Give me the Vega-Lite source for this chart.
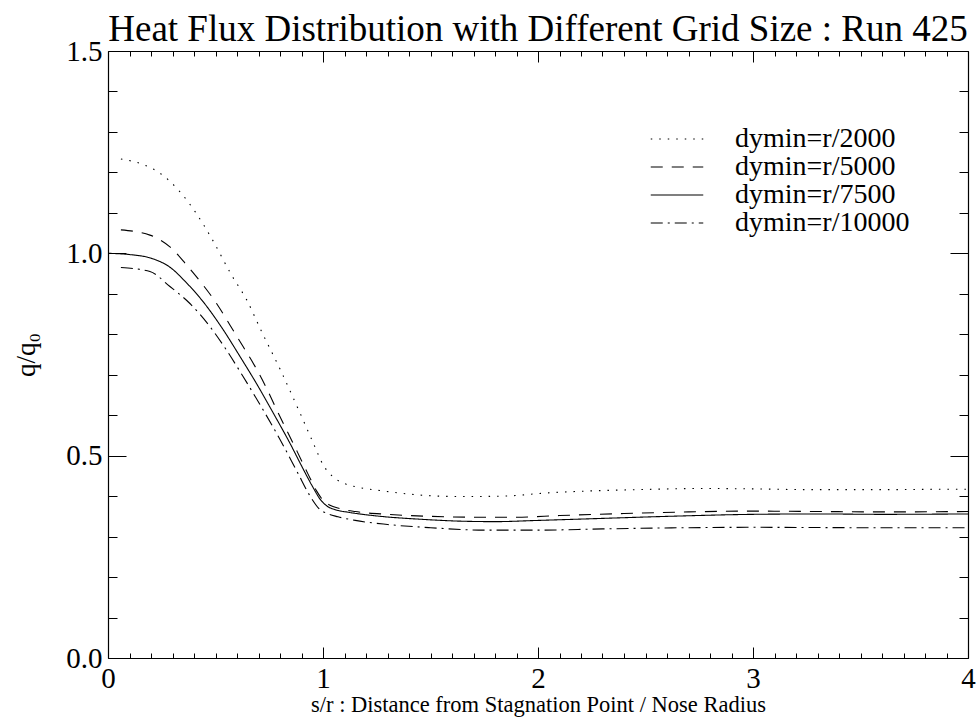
{
  "$schema": "https://vega.github.io/schema/vega-lite/v6.json",
  "autosize": "none",
  "padding": {"left": 108, "top": 51, "right": 9, "bottom": 69},
  "width": 860,
  "height": 607,
  "background": "white",
  "title": {
    "text": "Heat Flux Distribution with Different Grid Size : Run 425",
    "font": "Liberation Serif",
    "fontSize": 37,
    "fontWeight": "normal",
    "color": "black",
    "anchor": "middle",
    "offset": -12
  },
  "config": {
    "view": {"stroke": null},
    "axis": {
      "grid": false,
      "domainColor": "black",
      "domainWidth": 1.2,
      "tickColor": "black",
      "tickWidth": 1,
      "labelFont": "Liberation Serif",
      "labelFontSize": 29,
      "labelColor": "black",
      "titleFont": "Liberation Serif",
      "titleFontWeight": "normal",
      "titleColor": "black"
    }
  },
  "data": {
    "values": [
      {"run": "dymin=r/2000", "s": 0.06, "q": 1.233},
      {"run": "dymin=r/2000", "s": 0.15, "q": 1.222},
      {"run": "dymin=r/2000", "s": 0.242, "q": 1.198},
      {"run": "dymin=r/2000", "s": 0.335, "q": 1.152},
      {"run": "dymin=r/2000", "s": 0.405, "q": 1.103},
      {"run": "dymin=r/2000", "s": 0.482, "q": 1.037},
      {"run": "dymin=r/2000", "s": 0.575, "q": 0.946},
      {"run": "dymin=r/2000", "s": 0.645, "q": 0.885},
      {"run": "dymin=r/2000", "s": 0.715, "q": 0.806},
      {"run": "dymin=r/2000", "s": 0.802, "q": 0.712},
      {"run": "dymin=r/2000", "s": 0.88, "q": 0.621},
      {"run": "dymin=r/2000", "s": 0.955, "q": 0.531},
      {"run": "dymin=r/2000", "s": 1.0, "q": 0.478},
      {"run": "dymin=r/2000", "s": 1.05, "q": 0.446},
      {"run": "dymin=r/2000", "s": 1.1, "q": 0.431},
      {"run": "dymin=r/2000", "s": 1.163, "q": 0.422},
      {"run": "dymin=r/2000", "s": 1.277, "q": 0.413},
      {"run": "dymin=r/2000", "s": 1.422, "q": 0.404},
      {"run": "dymin=r/2000", "s": 1.63, "q": 0.399},
      {"run": "dymin=r/2000", "s": 1.837, "q": 0.4},
      {"run": "dymin=r/2000", "s": 2.044, "q": 0.408},
      {"run": "dymin=r/2000", "s": 2.25, "q": 0.413},
      {"run": "dymin=r/2000", "s": 2.457, "q": 0.416},
      {"run": "dymin=r/2000", "s": 2.79, "q": 0.419},
      {"run": "dymin=r/2000", "s": 2.976, "q": 0.418},
      {"run": "dymin=r/2000", "s": 3.287, "q": 0.416},
      {"run": "dymin=r/2000", "s": 3.598, "q": 0.416},
      {"run": "dymin=r/2000", "s": 3.908, "q": 0.417},
      {"run": "dymin=r/2000", "s": 4.0, "q": 0.417},

      {"run": "dymin=r/5000", "s": 0.06, "q": 1.058},
      {"run": "dymin=r/5000", "s": 0.195, "q": 1.045},
      {"run": "dymin=r/5000", "s": 0.288, "q": 1.016},
      {"run": "dymin=r/5000", "s": 0.366, "q": 0.971},
      {"run": "dymin=r/5000", "s": 0.436, "q": 0.926},
      {"run": "dymin=r/5000", "s": 0.505, "q": 0.876},
      {"run": "dymin=r/5000", "s": 0.567, "q": 0.823},
      {"run": "dymin=r/5000", "s": 0.629, "q": 0.769},
      {"run": "dymin=r/5000", "s": 0.676, "q": 0.728},
      {"run": "dymin=r/5000", "s": 0.738, "q": 0.666},
      {"run": "dymin=r/5000", "s": 0.785, "q": 0.613},
      {"run": "dymin=r/5000", "s": 0.831, "q": 0.563},
      {"run": "dymin=r/5000", "s": 0.88, "q": 0.51},
      {"run": "dymin=r/5000", "s": 0.93, "q": 0.455},
      {"run": "dymin=r/5000", "s": 0.97, "q": 0.413},
      {"run": "dymin=r/5000", "s": 1.0, "q": 0.39},
      {"run": "dymin=r/5000", "s": 1.03, "q": 0.378},
      {"run": "dymin=r/5000", "s": 1.08, "q": 0.369},
      {"run": "dymin=r/5000", "s": 1.15, "q": 0.362},
      {"run": "dymin=r/5000", "s": 1.3, "q": 0.355},
      {"run": "dymin=r/5000", "s": 1.5, "q": 0.35},
      {"run": "dymin=r/5000", "s": 1.7, "q": 0.348},
      {"run": "dymin=r/5000", "s": 1.9, "q": 0.348},
      {"run": "dymin=r/5000", "s": 2.1, "q": 0.352},
      {"run": "dymin=r/5000", "s": 2.4, "q": 0.357},
      {"run": "dymin=r/5000", "s": 2.7, "q": 0.361},
      {"run": "dymin=r/5000", "s": 3.0, "q": 0.363},
      {"run": "dymin=r/5000", "s": 3.3, "q": 0.362},
      {"run": "dymin=r/5000", "s": 3.6, "q": 0.361},
      {"run": "dymin=r/5000", "s": 4.0, "q": 0.362},

      {"run": "dymin=r/7500", "s": 0.0, "q": 1.0},
      {"run": "dymin=r/7500", "s": 0.1, "q": 0.997},
      {"run": "dymin=r/7500", "s": 0.2, "q": 0.988},
      {"run": "dymin=r/7500", "s": 0.29, "q": 0.965},
      {"run": "dymin=r/7500", "s": 0.36, "q": 0.93},
      {"run": "dymin=r/7500", "s": 0.44, "q": 0.882},
      {"run": "dymin=r/7500", "s": 0.536, "q": 0.811},
      {"run": "dymin=r/7500", "s": 0.614, "q": 0.745},
      {"run": "dymin=r/7500", "s": 0.692, "q": 0.677},
      {"run": "dymin=r/7500", "s": 0.769, "q": 0.605},
      {"run": "dymin=r/7500", "s": 0.847, "q": 0.53},
      {"run": "dymin=r/7500", "s": 0.9, "q": 0.475},
      {"run": "dymin=r/7500", "s": 0.95, "q": 0.425},
      {"run": "dymin=r/7500", "s": 0.99, "q": 0.39},
      {"run": "dymin=r/7500", "s": 1.02, "q": 0.375},
      {"run": "dymin=r/7500", "s": 1.06, "q": 0.366},
      {"run": "dymin=r/7500", "s": 1.12, "q": 0.36},
      {"run": "dymin=r/7500", "s": 1.25, "q": 0.351},
      {"run": "dymin=r/7500", "s": 1.45, "q": 0.343},
      {"run": "dymin=r/7500", "s": 1.65, "q": 0.338},
      {"run": "dymin=r/7500", "s": 1.8, "q": 0.337},
      {"run": "dymin=r/7500", "s": 2.0, "q": 0.34},
      {"run": "dymin=r/7500", "s": 2.3, "q": 0.345},
      {"run": "dymin=r/7500", "s": 2.6, "q": 0.35},
      {"run": "dymin=r/7500", "s": 3.0, "q": 0.355},
      {"run": "dymin=r/7500", "s": 3.3, "q": 0.356},
      {"run": "dymin=r/7500", "s": 3.6, "q": 0.355},
      {"run": "dymin=r/7500", "s": 4.0, "q": 0.356},

      {"run": "dymin=r/10000", "s": 0.06, "q": 0.965},
      {"run": "dymin=r/10000", "s": 0.195, "q": 0.955},
      {"run": "dymin=r/10000", "s": 0.288, "q": 0.918},
      {"run": "dymin=r/10000", "s": 0.381, "q": 0.876},
      {"run": "dymin=r/10000", "s": 0.474, "q": 0.819},
      {"run": "dymin=r/10000", "s": 0.551, "q": 0.761},
      {"run": "dymin=r/10000", "s": 0.629, "q": 0.695},
      {"run": "dymin=r/10000", "s": 0.706, "q": 0.627},
      {"run": "dymin=r/10000", "s": 0.8, "q": 0.54},
      {"run": "dymin=r/10000", "s": 0.88, "q": 0.46},
      {"run": "dymin=r/10000", "s": 0.94, "q": 0.4},
      {"run": "dymin=r/10000", "s": 0.98, "q": 0.37},
      {"run": "dymin=r/10000", "s": 1.02, "q": 0.357},
      {"run": "dymin=r/10000", "s": 1.07, "q": 0.349},
      {"run": "dymin=r/10000", "s": 1.15, "q": 0.34},
      {"run": "dymin=r/10000", "s": 1.3, "q": 0.33},
      {"run": "dymin=r/10000", "s": 1.5, "q": 0.322},
      {"run": "dymin=r/10000", "s": 1.75, "q": 0.316},
      {"run": "dymin=r/10000", "s": 2.0, "q": 0.316},
      {"run": "dymin=r/10000", "s": 2.3, "q": 0.319},
      {"run": "dymin=r/10000", "s": 2.7, "q": 0.322},
      {"run": "dymin=r/10000", "s": 3.0, "q": 0.323},
      {"run": "dymin=r/10000", "s": 3.5, "q": 0.322},
      {"run": "dymin=r/10000", "s": 4.0, "q": 0.322}
    ]
  },
  "resolve": {"axis": {"x": "independent", "y": "independent"}},
  "layer": [
    {
      "mark": {"type": "line", "color": "black", "strokeWidth": 1.1, "clip": true, "interpolate": "monotone"},
      "encoding": {
        "x": {
          "field": "s", "type": "quantitative",
          "scale": {"domain": [0, 4], "nice": false, "zero": false},
          "axis": {
            "orient": "bottom",
            "values": [0,0.1,0.2,0.3,0.4,0.5,0.6,0.7,0.8,0.9,1,1.1,1.2,1.3,1.4,1.5,1.6,1.7,1.8,1.9,2,2.1,2.2,2.3,2.4,2.5,2.6,2.7,2.8,2.9,3,3.1,3.2,3.3,3.4,3.5,3.6,3.7,3.8,3.9,4],
            "labelExpr": "abs(datum.value - round(datum.value)) < 0.001 ? format(datum.value, 'd') : ''",
            "tickSize": {"condition": {"test": "abs(datum.value - round(datum.value)) < 0.001", "value": -11}, "value": -5},
            "labelPadding": 17,
            "labelFlush": false,
            "labelOverlap": false,
            "labelBaseline": "top",
            "title": "s/r : Distance from Stagnation Point / Nose Radius",
            "titleFontSize": 22.5,
            "titleX": 430,
            "titleY": 46,
            "titleBaseline": "middle",
            "titleAnchor": null
          }
        },
        "y": {
          "field": "q", "type": "quantitative",
          "scale": {"domain": [0, 1.5], "nice": false},
          "axis": {
            "orient": "left",
            "values": [0,0.1,0.2,0.3,0.4,0.5,0.6,0.7,0.8,0.9,1,1.1,1.2,1.3,1.4,1.5],
            "labelExpr": "abs(datum.value*2 - round(datum.value*2)) < 0.001 ? format(datum.value, '.1f') : ''",
            "tickSize": {"condition": {"test": "abs(datum.value*2 - round(datum.value*2)) < 0.001", "value": -18}, "value": -9},
            "labelPadding": 24,
            "labelFlush": false,
            "labelOverlap": false,
            "title": "q/q₀",
            "titleFontSize": 27,
            "titleAngle": -90,
            "titleX": -82,
            "titleY": 303.5,
            "titleAlign": "center",
            "titleBaseline": "middle"
          }
        },
        "strokeDash": {
          "field": "run", "type": "nominal",
          "scale": {
            "domain": ["dymin=r/2000", "dymin=r/5000", "dymin=r/7500", "dymin=r/10000"],
            "range": [[1.5, 7], [12, 9], [1, 0], [12, 5, 2, 5]]
          },
          "legend": {
            "title": null,
            "orient": "none",
            "legendX": 555,
            "legendY": 74,
            "padding": 0,
            "symbolType": "M-2.5,0H2.5",
            "symbolSize": 441,
            "symbolStrokeColor": "black",
            "symbolStrokeWidth": 1.1,
            "symbolFillColor": "transparent",
            "labelFont": "Liberation Serif",
            "labelFontSize": 23.5,
            "labelColor": "black",
            "labelOffset": 44,
            "rowPadding": -6,
            "labelLimit": 400,
            "encode": {"labels": {"update": {"fontSize": {"value": 28}}}}
          }
        }
      }
    },
    {
      "mark": {"type": "line", "strokeOpacity": 0, "clip": true},
      "encoding": {
        "detail": {"field": "run", "type": "nominal"},
        "x": {
          "field": "s", "type": "quantitative",
          "axis": {
            "orient": "top",
            "values": [0,0.1,0.2,0.3,0.4,0.5,0.6,0.7,0.8,0.9,1,1.1,1.2,1.3,1.4,1.5,1.6,1.7,1.8,1.9,2,2.1,2.2,2.3,2.4,2.5,2.6,2.7,2.8,2.9,3,3.1,3.2,3.3,3.4,3.5,3.6,3.7,3.8,3.9,4],
            "labels": false,
            "tickSize": {"condition": {"test": "abs(datum.value - round(datum.value)) < 0.001", "value": -11}, "value": -5},
            "title": null
          }
        },
        "y": {
          "field": "q", "type": "quantitative",
          "axis": {
            "orient": "right",
            "values": [0,0.1,0.2,0.3,0.4,0.5,0.6,0.7,0.8,0.9,1,1.1,1.2,1.3,1.4,1.5],
            "labels": false,
            "tickSize": {"condition": {"test": "abs(datum.value*2 - round(datum.value*2)) < 0.001", "value": -18}, "value": -9},
            "title": null
          }
        }
      }
    }
  ]
}
